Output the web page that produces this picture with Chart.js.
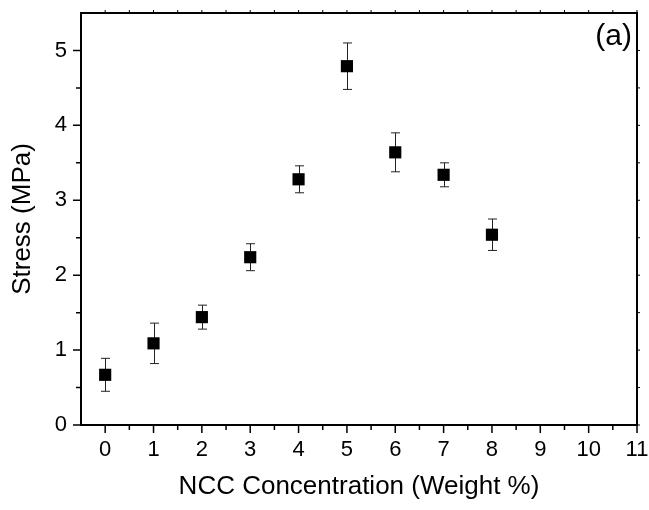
<!DOCTYPE html>
<html>
<head>
<meta charset="utf-8">
<script src="https://cdn.jsdelivr.net/npm/chart.js@4.4.0/dist/chart.umd.min.js"></script>
<style>
  body { margin: 0; background: #fff; }
  canvas { display: block; }
</style>
</head>
<body>
<canvas id="chart" width="649" height="510"></canvas>
<script>
// data
const concentration = [0, 1, 2, 3, 4, 5, 6, 7, 8];
const stress = [0.67, 1.09, 1.44, 2.24, 3.28, 4.79, 3.64, 3.34, 2.54];
const stressErr = [0.22, 0.27, 0.16, 0.18, 0.18, 0.31, 0.26, 0.16, 0.21];

const xTicks = [0, 1, 2, 3, 4, 5, 6, 7, 8, 9, 10, 11];
const xMinor = [0.5, 1.5, 2.5, 3.5, 4.5, 5.5, 6.5, 7.5, 8.5, 9.5, 10.5];
const yTicks = [0, 1, 2, 3, 4, 5];
const yMinor = [0.5, 1.5, 2.5, 3.5, 4.5];

const FONT = '"Liberation Sans", Arial, sans-serif';

const errorBars = {
    id: 'errorBars',
    beforeDatasetsDraw(chart) {
        const ctx = chart.ctx;
        const xs = chart.scales.x, ys = chart.scales.y;
        ctx.save();
        ctx.strokeStyle = '#222';
        ctx.lineWidth = 1;
        stress.forEach((v, i) => {
            const px = Math.round(xs.getPixelForValue(concentration[i])) + 0.5;
            const top = ys.getPixelForValue(v + stressErr[i]);
            const bot = ys.getPixelForValue(v - stressErr[i]);
            ctx.beginPath();
            ctx.moveTo(px, top); ctx.lineTo(px, bot);
            ctx.moveTo(px - 4.5, top); ctx.lineTo(px + 4.5, top);
            ctx.moveTo(px - 4.5, bot); ctx.lineTo(px + 4.5, bot);
            ctx.stroke();
        });
        ctx.restore();
    }
};

const frameAndTicks = {
    id: 'frameAndTicks',
    afterDraw(chart) {
        const ctx = chart.ctx;
        const a = chart.chartArea;
        const xs = chart.scales.x, ys = chart.scales.y;
        ctx.save();
        ctx.strokeStyle = '#000';
        // top and right frame
        ctx.lineWidth = 2;
        ctx.beginPath();
        ctx.moveTo(a.left, a.top); ctx.lineTo(a.right, a.top); ctx.lineTo(a.right, a.bottom);
        ctx.stroke();

        ctx.lineWidth = 1.5;
        ctx.beginPath();
        // bottom axis: major / minor ticks pointing out
        xTicks.forEach(v => { const p = xs.getPixelForValue(v); ctx.moveTo(p, a.bottom); ctx.lineTo(p, a.bottom + 8); });
        xMinor.forEach(v => { const p = xs.getPixelForValue(v); ctx.moveTo(p, a.bottom); ctx.lineTo(p, a.bottom + 5); });
        // left axis
        yTicks.forEach(v => { const p = ys.getPixelForValue(v); ctx.moveTo(a.left, p); ctx.lineTo(a.left - 8, p); });
        yMinor.forEach(v => { const p = ys.getPixelForValue(v); ctx.moveTo(a.left, p); ctx.lineTo(a.left - 5, p); });
        ctx.stroke();

        ctx.lineWidth = 1;
        ctx.beginPath();
        // top and right axes: short marks
        xTicks.concat(xMinor).forEach(v => { const p = xs.getPixelForValue(v); ctx.moveTo(p, a.top); ctx.lineTo(p, a.top - 3); });
        yTicks.concat(yMinor).forEach(v => { const p = ys.getPixelForValue(v); ctx.moveTo(a.right, p); ctx.lineTo(a.right + 3, p); });
        ctx.stroke();

        // panel label
        ctx.fillStyle = '#000';
        ctx.font = '30px ' + FONT;
        ctx.textAlign = 'right';
        ctx.textBaseline = 'alphabetic';
        ctx.fillText('(a)', a.right - 5, a.top + 32);
        ctx.restore();
    }
};

const ctx = document.getElementById('chart').getContext('2d');
const chart = new Chart(ctx, {
    type: 'scatter',
    data: {
        datasets: [{
            label: 'Stress',
            data: concentration.map((c, i) => ({ x: c, y: stress[i] })),
            pointStyle: 'rect',
            pointRadius: 8.6,
            pointHoverRadius: 8.6,
            backgroundColor: '#000',
            borderWidth: 0
        }]
    },
    options: {
        responsive: false,
        animation: false,
        events: [],
        layout: { padding: { top: 13, right: 12, left: 0, bottom: 0 } },
        plugins: {
            legend: { display: false },
            tooltip: { enabled: false }
        },
        scales: {
            x: {
                type: 'linear',
                min: -0.5,
                max: 11,
                afterBuildTicks: scale => { scale.ticks = xTicks.map(v => ({ value: v })); },
                afterFit: scale => {
                    scale.height = 85;
                    scale.paddingLeft = 0; scale.paddingRight = 0;
                },
                grid: { display: false, drawTicks: false },
                border: { display: true, color: '#000', width: 2 },
                ticks: {
                    autoSkip: false,
                    maxRotation: 0,
                    padding: 12,
                    color: '#000',
                    font: { family: FONT, size: 22 }
                },
                title: {
                    display: true,
                    text: 'NCC Concentration (Weight %)',
                    color: '#000',
                    padding: 8,
                    font: { family: FONT, size: 26 }
                }
            },
            y: {
                min: 0,
                max: 5.5,
                afterBuildTicks: scale => { scale.ticks = yTicks.map(v => ({ value: v })); },
                afterFit: scale => {
                    scale.width = 81;
                    scale.paddingTop = 0; scale.paddingBottom = 0;
                },
                grid: { display: false, drawTicks: false },
                border: { display: true, color: '#000', width: 2 },
                ticks: {
                    padding: 14,
                    color: '#000',
                    font: { family: FONT, size: 22 }
                },
                title: {
                    display: true,
                    text: 'Stress (MPa)',
                    color: '#000',
                    padding: 7,
                    font: { family: FONT, size: 26 }
                }
            }
        }
    },
    plugins: [errorBars, frameAndTicks]
});
</script>
</body>
</html>
